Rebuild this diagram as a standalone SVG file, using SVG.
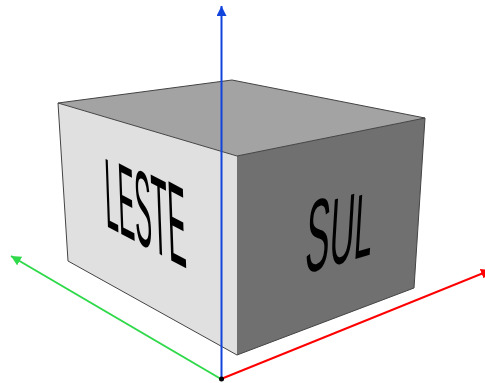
<svg xmlns="http://www.w3.org/2000/svg" width="485" height="383" viewBox="0 0 485 383">
<style>
.edge{fill:none;stroke:#444;stroke-width:1}
.lbl{font-family:"Liberation Sans",Arial,sans-serif;font-size:100px;fill:#000}
.axis{fill:none;stroke-width:2}
</style>
<defs>
<marker id="ah-b" markerUnits="userSpaceOnUse" markerWidth="12" markerHeight="12" refX="10" refY="5" orient="auto"><path d="M0 0L10 5L0 10Z" fill="#1144dd"/></marker>
<marker id="ah-g" markerUnits="userSpaceOnUse" markerWidth="12" markerHeight="12" refX="10" refY="5" orient="auto"><path d="M0 0L10 5L0 10Z" fill="#2fd94a"/></marker>
<marker id="ah-r" markerUnits="userSpaceOnUse" markerWidth="12" markerHeight="12" refX="10" refY="5" orient="auto"><path d="M0 0L10 5L0 10Z" fill="#ff0000"/></marker>
</defs>
<rect width="485" height="383" fill="#fff"/>
<g id="box">
<polygon points="58,103 232,80 425,118 237,156" fill="#a3a3a3"/>
<polygon points="58,103 237,156 237,355 68,261" fill="#e0e0e0"/>
<polygon points="237,156 425,118 414,288 237,355" fill="#707070"/>
<path class="edge" d="M68,261L58,103L232,80L425,118L414,288L237,355L68,261M58,103L237,156L425,118"/>
</g>
<g id="leste"><text class="lbl" transform="matrix(0.24,0.126,0.035,1,106,226)"><tspan font-size="99">L</tspan><tspan font-size="103">E</tspan><tspan font-size="107">S</tspan><tspan font-size="111">T</tspan><tspan font-size="115">E</tspan></text></g>
<g id="sul"><text class="lbl" transform="matrix(0.352,-0.103,-0.06,1,304,274)"><tspan font-size="103">S</tspan><tspan font-size="97">U</tspan><tspan font-size="92">L</tspan></text></g>
<g id="connectors">
<line class="axis" x1="221" y1="379" x2="11" y2="256" stroke="#2fd94a" marker-end="url(#ah-g)"/>
<line class="axis" x1="221" y1="379" x2="491" y2="270" stroke="#ff0000" marker-end="url(#ah-r)"/>
<line class="axis" x1="221.500" y1="379" x2="221.500" y2="6" stroke="#1144dd" marker-end="url(#ah-b)"/>
</g>
<g id="origin"><circle cx="221.500" cy="379" r="2.500" fill="#000"/></g>
</svg>
